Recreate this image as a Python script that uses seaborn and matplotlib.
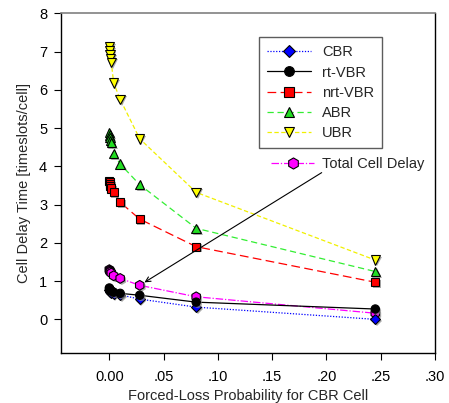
import matplotlib
matplotlib.use("Agg")
import matplotlib.pyplot as plt
import matplotlib.patheffects as pe
from matplotlib.lines import Line2D
import pandas as pd
import seaborn as sns

# Forced-loss probability for CBR cells (x) and mean cell delay per service class
loss_prob = [0.0, 0.0003, 0.0006, 0.001, 0.0018, 0.004, 0.010, 0.028, 0.080, 0.245]
cbr = [0.78, 0.76, 0.74, 0.72, 0.70, 0.67, 0.64, 0.53, 0.32, 0.00]
rt_vbr = [0.82, 0.80, 0.78, 0.76, 0.74, 0.71, 0.68, 0.63, 0.45, 0.27]
nrt_vbr = [3.62, 3.58, 3.54, 3.48, 3.42, 3.33, 3.06, 2.62, 1.90, 0.97]
abr = [4.88, 4.82, 4.75, 4.68, 4.62, 4.33, 4.06, 3.52, 2.38, 1.25]
ubr = [7.12, 7.02, 6.92, 6.82, 6.72, 6.18, 5.75, 4.72, 3.32, 1.55]
total = [1.30, 1.28, 1.26, 1.24, 1.21, 1.14, 1.07, 0.89, 0.59, 0.16]

series_names = ["CBR", "rt-VBR", "nrt-VBR", "ABR", "UBR"]
total_name = "Total Cell Delay"
x_ticks = [0.0, 0.05, 0.10, 0.15, 0.20, 0.25, 0.30]
x_tick_labels = ["0.00", ".05", ".10", ".15", ".20", ".25", ".30"]
y_ticks = [0, 1, 2, 3, 4, 5, 6, 7, 8]

sns.set_style("ticks")
plt.rcParams["font.family"] = ["Liberation Sans", "DejaVu Sans"]
plt.rcParams["font.size"] = 10

styles = {
    "CBR": dict(color="#0000ff", marker="D", ms=5.2, ls=(0, (1, 1.3))),
    "rt-VBR": dict(color="#000000", marker="o", ms=6.0, ls="-"),
    "nrt-VBR": dict(color="#ff0000", marker="s", ms=5.8, ls=(0, (7, 3.5))),
    "ABR": dict(color="#33ee33", marker="^", ms=6.8, ls=(0, (5, 3))),
    "UBR": dict(color="#f0f000", marker="v", ms=6.8, ls=(0, (3.5, 2))),
    total_name: dict(color="#ff00ff", marker="h", ms=7.0, ls=(0, (6, 1.5, 1, 1.5))),
}
marker_face = {"rt-VBR": "#000000", "ABR": "#22dd22", "UBR": "#ffff00"}

data = {
    "CBR": cbr,
    "rt-VBR": rt_vbr,
    "nrt-VBR": nrt_vbr,
    "ABR": abr,
    "UBR": ubr,
    total_name: total,
}

shadow = [pe.SimplePatchShadow(offset=(1.2, -1.2), shadow_rgbFace="#888888", alpha=0.7),
          pe.Normal()]

fig = plt.figure(figsize=(4.49, 4.03), dpi=100)
ax = fig.add_axes([0.1359, 0.124, 0.8329, 0.843])

draw_order = [total_name, "CBR", "rt-VBR", "nrt-VBR", "ABR", "UBR"]
for name in draw_order:
    st = styles[name]
    df = pd.DataFrame({"x": loss_prob, "y": data[name]})
    # connecting line
    sns.lineplot(
        data=df, x="x", y="y", ax=ax, sort=False, estimator=None,
        color=st["color"], linestyle=st["ls"], linewidth=0.9,
    )
    # markers with a soft drop shadow
    sns.lineplot(
        data=df, x="x", y="y", ax=ax, sort=False, estimator=None,
        color=st["color"], linestyle="none",
        marker=st["marker"], markersize=st["ms"],
        markerfacecolor=marker_face.get(name, st["color"]),
        markeredgecolor="black", markeredgewidth=0.8,
        path_effects=shadow,
    )


def handle(name):
    st = styles[name]
    return Line2D([], [], color=st["color"], linestyle=st["ls"], linewidth=0.9,
                  marker=st["marker"], markersize=st["ms"] + 1,
                  markerfacecolor=marker_face.get(name, st["color"]),
                  markeredgecolor="black", markeredgewidth=0.8)


leg = ax.legend([handle(n) for n in series_names], series_names,
                loc="upper left", bbox_to_anchor=(0.529, 0.929),
                borderaxespad=0, frameon=True, fancybox=False,
                handlelength=3.0, handletextpad=0.8, labelspacing=0.42,
                borderpad=0.55, fontsize=10.5)
leg.get_frame().set_edgecolor("#333333")
leg.get_frame().set_linewidth(1.0)
ax.add_artist(leg)

leg2 = ax.legend([handle(total_name)], [total_name],
                 loc="upper left", bbox_to_anchor=(0.545, 0.594),
                 borderaxespad=0, frameon=False,
                 handlelength=3.0, handletextpad=0.55, fontsize=10.5)

# Arrow from the label down to the total-delay point at the 0.028 loss level
ax.annotate("", xy=(loss_prob[7], total[7]), xycoords="data",
            xytext=(0.697, 0.531), textcoords="axes fraction",
            arrowprops=dict(arrowstyle="->", color="black", lw=0.8,
                            shrinkA=0, shrinkB=4, mutation_scale=9))

ax.set_xlim(-0.0445, 0.30)
ax.set_ylim(-0.88, 8.0)
ax.set_xticks(x_ticks)
ax.set_xticklabels(x_tick_labels)
ax.set_yticks(y_ticks)
ax.tick_params(axis="both", direction="out", length=5, width=0.8,
               labelsize=10.5, colors="black", pad=5)
ax.tick_params(axis="x", pad=7)
ax.set_xlabel("Forced-Loss Probability for CBR Cell", fontsize=10.5, labelpad=4)
ax.set_ylabel("Cell Delay Time [timeslots/cell]", fontsize=10.5, labelpad=6)

for side in ["left", "bottom", "right"]:
    ax.spines[side].set_visible(True)
    ax.spines[side].set_color("black")
    ax.spines[side].set_linewidth(1.0)
ax.spines["top"].set_visible(True)
ax.spines["top"].set_color("#808080")
ax.spines["top"].set_linewidth(1.2)

fig.savefig("out.png", dpi=100)
